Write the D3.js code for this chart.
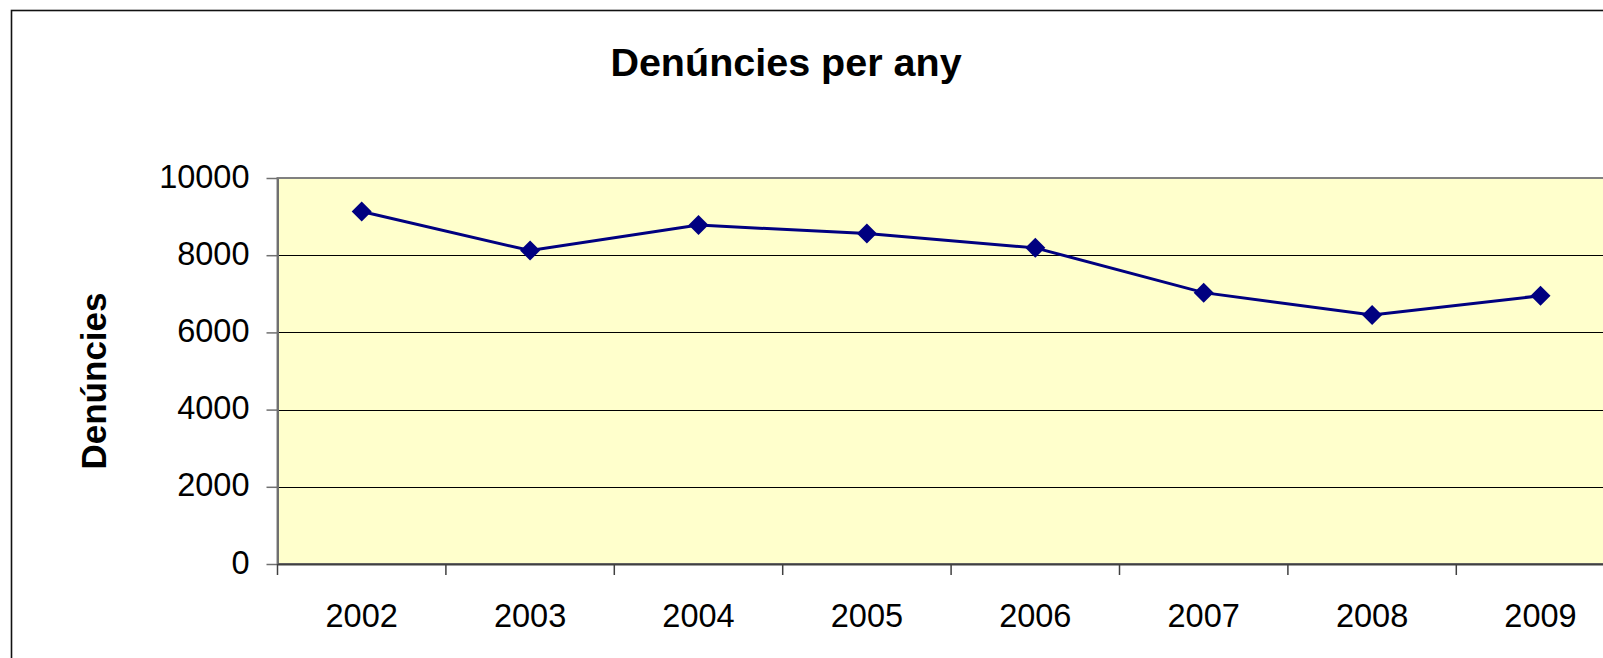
<!DOCTYPE html>
<html>
<head>
<meta charset="utf-8">
<script src="https://cdn.jsdelivr.net/npm/d3@7"></script>
<style>
  html, body { margin: 0; padding: 0; background: #fff; overflow: hidden; }
  svg { display: block; font-family: "Liberation Sans", Arial, sans-serif; }
</style>
</head>
<body>
<svg id="chart" width="1603" height="658"></svg>
<script>
const categories = ["2002", "2003", "2004", "2005", "2006", "2007", "2008", "2009"];
const denuncies = [9130, 8120, 8780, 8560, 8190, 7030, 6450, 6950];
const yTicks = [0, 2000, 4000, 6000, 8000, 10000];
const titleText = "Denúncies per any";
const yLabelText = "Denúncies";

const svg = d3.select("#chart");
const W = 1603, H = 658;

const plotLeft = 277.5, plotTop = 178, plotBottom = 564;
const step = 168.4;
const plotRight = plotLeft + step * categories.length;

const x = d3.scaleBand().domain(categories).range([plotLeft, plotRight]).paddingInner(0).paddingOuter(0);
const y = d3.scaleLinear().domain([0, 10000]).range([plotBottom, plotTop]);

// outer chart border
svg.append("rect")
  .attr("x", 11.5).attr("y", 10.5)
  .attr("width", W + 50).attr("height", H + 50)
  .attr("fill", "#fff").attr("stroke", "#111").attr("stroke-width", 1.6);

// title
svg.append("text")
  .attr("x", 786).attr("y", 76)
  .attr("text-anchor", "middle")
  .attr("font-size", 39.5).attr("font-weight", "bold")
  .attr("fill", "#000")
  .text(titleText);

// plot area
svg.append("rect")
  .attr("x", plotLeft).attr("y", plotTop)
  .attr("width", plotRight - plotLeft).attr("height", plotBottom - plotTop)
  .attr("fill", "#FFFFCC").attr("stroke", "#808080").attr("stroke-width", 2);

// gridlines
svg.append("g").selectAll("line")
  .data(yTicks.filter(d => d > 0 && d < 10000))
  .join("line")
  .attr("x1", plotLeft).attr("x2", plotRight)
  .attr("y1", d => Math.round(y(d)) + 0.5).attr("y2", d => Math.round(y(d)) + 0.5)
  .attr("stroke", "#000").attr("stroke-width", 1);

// y axis
const yAxis = svg.append("g")
  .attr("transform", `translate(${plotLeft},0)`)
  .call(d3.axisLeft(y).tickValues(yTicks).tickSize(11).tickSizeOuter(0).tickPadding(17).tickFormat(d3.format("d")));
yAxis.select(".domain").attr("stroke", "#707070").attr("stroke-width", 2);
yAxis.selectAll(".tick line").attr("stroke", "#707070").attr("stroke-width", 1.5);
yAxis.selectAll(".tick text")
  .attr("font-size", 32.5).attr("fill", "#000")
  .attr("font-family", "Liberation Sans, Arial, sans-serif")
  .attr("dy", "0.28em");

// x axis (labels at category centres)
const xAxis = svg.append("g")
  .attr("transform", `translate(0,${plotBottom})`)
  .call(d3.axisBottom(x).tickSize(0).tickSizeOuter(0).tickPadding(40));
xAxis.select(".domain").attr("stroke", "#404040").attr("stroke-width", 2);
xAxis.selectAll(".tick text")
  .attr("font-size", 32.5).attr("fill", "#000")
  .attr("font-family", "Liberation Sans, Arial, sans-serif");

// x tick marks at category boundaries
const boundaries = categories.map(c => x(c)).concat([plotRight]);
svg.append("g").selectAll("line")
  .data(boundaries)
  .join("line")
  .attr("x1", d => d).attr("x2", d => d)
  .attr("y1", plotBottom).attr("y2", plotBottom + 11)
  .attr("stroke", "#404040").attr("stroke-width", 1.5);

// y-axis title
svg.append("text")
  .attr("transform", `translate(106,381) rotate(-90)`)
  .attr("text-anchor", "middle")
  .attr("font-size", 35).attr("font-weight", "bold")
  .attr("fill", "#000")
  .text(yLabelText);

// series line
const pts = categories.map((c, i) => ({ c, v: denuncies[i] }));
const line = d3.line().x(d => x(d.c) + x.bandwidth() / 2).y(d => y(d.v));
svg.append("path")
  .datum(pts)
  .attr("d", line)
  .attr("fill", "none")
  .attr("stroke", "#000080")
  .attr("stroke-width", 3);

// diamond markers
const diamond = d3.symbol().type(d3.symbolSquare).size(200);
svg.append("g").selectAll("path")
  .data(pts)
  .join("path")
  .attr("d", diamond)
  .attr("transform", d => `translate(${x(d.c) + x.bandwidth() / 2},${y(d.v)}) rotate(45)`)
  .attr("fill", "#000080");
</script>
</body>
</html>
